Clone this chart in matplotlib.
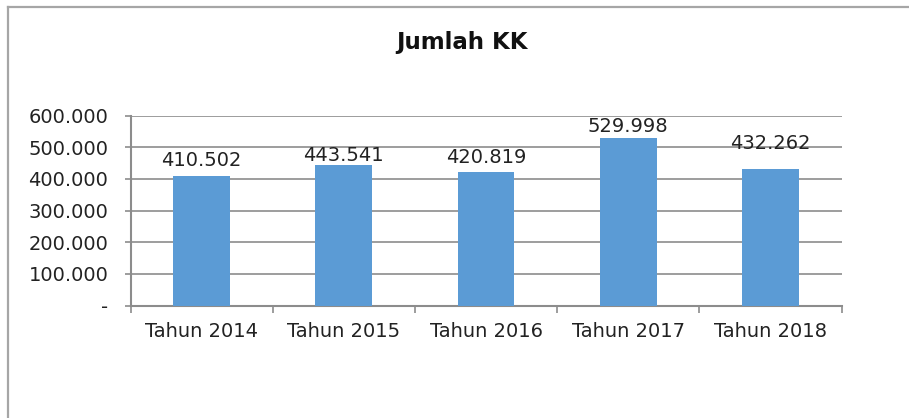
import matplotlib
matplotlib.use("Agg")
import matplotlib.pyplot as plt
from matplotlib.lines import Line2D
from matplotlib.ticker import FuncFormatter, FixedLocator

# data
categories = ["Tahun 2014", "Tahun 2015", "Tahun 2016", "Tahun 2017", "Tahun 2018"]
jumlah_kk = [410502, 443541, 420819, 529998, 432262]
# vertical offset (points) of each data label above its bar
label_offsets = [11, 7, 11, 8, 18]

BAR_COLOR = "#5B9BD5"
GRID_COLOR = "#8C8C8C"
TEXT_COLOR = "#222222"

plt.rcParams["font.family"] = ["DejaVu Sans"]


def fmt_thousands(v, pos):
    if v == 0:
        return "-"
    return "{:,.0f}".format(v).replace(",", ".")


fig = plt.figure(figsize=(9.09, 4.18), dpi=100)
ax = fig.add_axes([130.5 / 909, 1 - 305.5 / 418, 711 / 909, 189.8 / 418])

x = list(range(len(categories)))
bars = ax.bar(x, jumlah_kk, width=0.4, color=BAR_COLOR, zorder=3)

for b, v, off in zip(bars, jumlah_kk, label_offsets):
    ax.annotate(fmt_thousands(v, None), (b.get_x() + b.get_width() / 2, v),
                xytext=(0, off), textcoords="offset points",
                ha="center", va="center", fontsize=14, color=TEXT_COLOR, zorder=4)

ax.set_xlim(-0.5, len(categories) - 0.5)
ax.set_ylim(0, 600000)
ax.set_yticks(range(0, 600001, 100000))
ax.yaxis.set_major_formatter(FuncFormatter(fmt_thousands))
ax.set_xticks(x)
ax.set_xticklabels(categories)
ax.xaxis.set_minor_locator(FixedLocator([i - 0.5 for i in range(len(categories) + 1)]))

ax.yaxis.grid(True, color=GRID_COLOR, linewidth=1.2, zorder=0)
ax.tick_params(axis="y", length=4, width=1.2, color=GRID_COLOR, pad=12,
               labelsize=14, labelcolor=TEXT_COLOR)
ax.tick_params(axis="x", which="major", length=0, pad=12,
               labelsize=14, labelcolor=TEXT_COLOR)
ax.tick_params(axis="x", which="minor", length=5, width=1.2, color=GRID_COLOR)

for s in ["top", "right"]:
    ax.spines[s].set_visible(False)
for s in ["left", "bottom"]:
    ax.spines[s].set_color(GRID_COLOR)
    ax.spines[s].set_linewidth(1.5)

fig.text(462 / 909, 1 - 42 / 418, "Jumlah KK", ha="center", va="center",
         fontsize=16.5, fontweight="bold", color="#111111")

# chart border (left and top edges visible)
fig.add_artist(Line2D([8 / 909, 8 / 909], [0, 1 - 7 / 418], color="#A6A6A6", linewidth=1.6))
fig.add_artist(Line2D([8 / 909, 1], [1 - 7 / 418, 1 - 7 / 418], color="#A6A6A6", linewidth=1.6))

fig.savefig("out.png", dpi=100)
